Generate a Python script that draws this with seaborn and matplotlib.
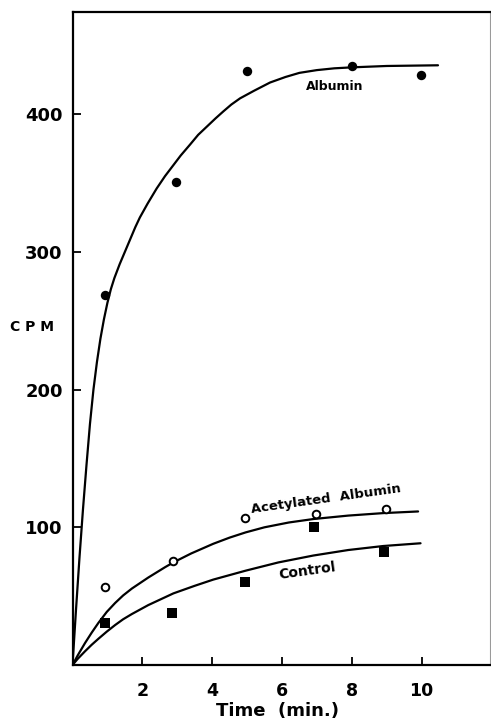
import matplotlib
matplotlib.use("Agg")
import matplotlib.pyplot as plt
import seaborn as sns

# --- data ---
alb_x = [0.93, 2.97, 4.99, 8.0, 9.97]
alb_y = [268.7, 351, 431, 435, 428.5]

acet_x = [0.93, 2.89, 4.95, 6.98, 8.97]
acet_y = [57, 75.5, 107, 110, 113.5]

ctrl_x = [0.93, 2.86, 4.94, 6.93, 8.93]
ctrl_y = [30.7, 37.5, 60, 100.4, 82.3]

# fitted curves as drawn on the figure
alb_cx = [0, 0.05, 0.1, 0.2, 0.3, 0.4, 0.5, 0.6, 0.7, 0.8, 0.9, 1.0, 1.1, 1.2,
          1.35, 1.5, 1.65, 1.8, 1.93, 2.15, 2.41, 2.65, 2.89, 3.1, 3.37, 3.6,
          3.85, 4.1, 4.32, 4.55, 4.8, 5.2, 5.66, 6.1, 6.5, 7.0, 7.5, 8.0, 9.0, 10.47]
alb_cy = [0, 20, 40, 78, 113, 145, 175, 200, 220, 237, 251, 263, 273, 281,
          291, 300, 309, 318, 325, 335, 346, 355, 363, 370, 378, 385,
          391, 397, 402, 407, 411.5, 417, 423, 427, 430, 432, 433.3, 434, 435, 435.5]

acet_cx = [0, 0.15, 0.36, 0.55, 0.74, 0.98, 1.22, 1.45, 1.7, 2.17, 2.65, 2.89,
           3.4, 4.03, 4.5, 4.96, 5.5, 6.2, 6.9, 7.9, 8.9, 9.9]
acet_cy = [0, 7, 16, 23.5, 30.5, 38.5, 45, 50.5, 55.5, 63.5, 71, 74.5,
           81, 88, 92.5, 96.3, 100, 103.5, 106, 108.5, 110.3, 111.5]

ctrl_cx = [0, 0.15, 0.36, 0.55, 0.74, 0.98, 1.22, 1.45, 1.7, 2.17, 2.89, 3.5,
           4.03, 4.96, 5.9, 6.9, 7.9, 8.9, 9.97]
ctrl_cy = [0, 4.5, 10, 14.7, 19, 24.2, 29, 33.2, 37, 43.5, 52, 57.5,
           62, 68.5, 74.5, 79.5, 83.5, 86.4, 88.4]

x_ticks = [2, 4, 6, 8, 10]
y_ticks = [100, 200, 300, 400]

sns.set_style("ticks")
plt.rcParams['font.family'] = ['DejaVu Sans']
plt.rcParams['text.color'] = 'black'
plt.rcParams['axes.labelcolor'] = 'black'
plt.rcParams['xtick.color'] = 'black'
plt.rcParams['ytick.color'] = 'black'

fig = plt.figure(figsize=(4.91, 7.2), dpi=100)
ax = fig.add_axes([72.5 / 491, 1 - 665 / 720, (490 - 72.5) / 491, (665 - 12) / 720])

lw = 1.6
sns.lineplot(x=alb_cx, y=alb_cy, ax=ax, color="black", lw=lw, sort=False)
sns.lineplot(x=acet_cx, y=acet_cy, ax=ax, color="black", lw=lw, sort=False)
sns.lineplot(x=ctrl_cx, y=ctrl_cy, ax=ax, color="black", lw=lw, sort=False)

sns.scatterplot(x=alb_x, y=alb_y, ax=ax, color="black", marker="o", s=46,
                edgecolor="black", linewidth=0, zorder=3)
sns.scatterplot(x=acet_x, y=acet_y, ax=ax, marker="o", s=30,
                facecolor="white", edgecolor="black", linewidth=1.4, zorder=3)
sns.scatterplot(x=ctrl_x, y=ctrl_y, ax=ax, color="black", marker="s", s=60,
                edgecolor="black", linewidth=0, zorder=3)

ax.set_xlim(0, 11.96)
ax.set_ylim(0, 474.2)
ax.set_xticks(x_ticks)
ax.set_yticks(y_ticks)
ax.set_xticklabels([str(t) for t in x_ticks], fontsize=12.5, fontweight="heavy")
ax.set_yticklabels([str(t) for t in y_ticks], fontsize=13, fontweight="heavy")
ax.tick_params(axis="x", direction="in", length=5.5, width=1.3, pad=12, color="black")
ax.tick_params(axis="y", direction="in", length=5.5, width=1.3, pad=7, color="black")

for side in ["left", "bottom", "top"]:
    ax.spines[side].set_visible(True)
    ax.spines[side].set_linewidth(1.6)
    ax.spines[side].set_color("black")
ax.spines["right"].set_visible(True)
ax.spines["right"].set_linewidth(0.8)
ax.spines["right"].set_color("#9a9a9a")

ax.set_xlabel("Time  (min.)", fontsize=13, fontweight="heavy", color="black")
ax.xaxis.set_label_coords(0.492, -0.0704)
ax.xaxis.label.set_va("center")
ax.set_ylabel("C P M", fontsize=10, fontweight="heavy", rotation=0, color="black")
ax.yaxis.set_label_coords(-0.096, 0.5176)
ax.yaxis.label.set_va("center")
ax.yaxis.label.set_ha("center")

ax.text(7.52, 420, "Albumin", fontsize=9, fontweight="heavy", ha="center",
        va="center", color="black")
ax.text(7.27, 120.5, "Acetylated  Albumin", fontsize=9.5, fontweight="heavy",
        ha="center", va="center", rotation=8, rotation_mode="anchor", color="black")
ax.text(6.72, 68, "Control", fontsize=10, fontweight="heavy",
        ha="center", va="center", rotation=8, rotation_mode="anchor", color="black")

fig.savefig("out.png", dpi=100)
